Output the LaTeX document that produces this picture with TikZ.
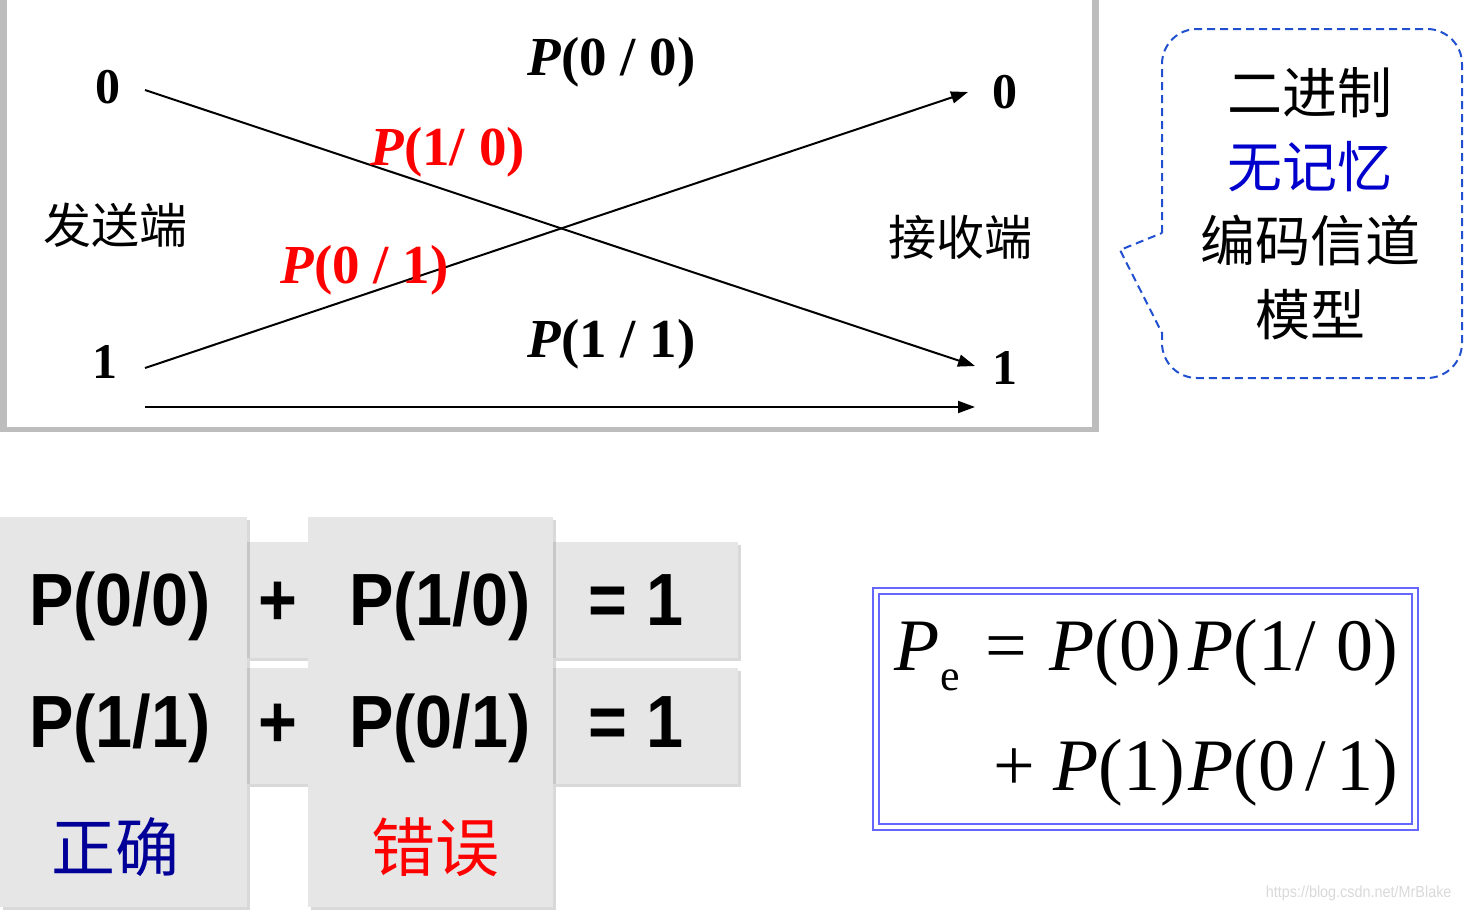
\documentclass[tikz,border=0pt]{standalone}
\usepackage{fontspec}
\setmainfont{Liberation Serif}
\newfontfamily\cjk{Noto Sans CJK SC}
\newfontfamily\arial[FakeStretch=0.9]{Liberation Sans}
\usetikzlibrary{arrows.meta, positioning, shadows}
\definecolor{cShadow}{HTML}{BDBDBD}
\definecolor{cCell}{HTML}{E6E6E6}
\definecolor{cErr}{HTML}{FF0000}
\definecolor{cMem}{HTML}{0000CC}
\definecolor{cOk}{HTML}{000099}
\definecolor{cCall}{HTML}{2050D0}
\definecolor{cBox}{HTML}{6666FF}
\newcommand{\fsz}[1]{\fontsize{#1}{#1}\selectfont}

\begin{document}
\begin{tikzpicture}[x=1pt, y=-1pt,
    digit/.style={font=\fsz{50}\bfseries, inner sep=0pt},
    prob/.style={font=\fsz{55}\bfseries, inner sep=0pt, anchor=base west},
    wrong/.style={prob, text=cErr},
    side/.style={font=\cjk\fsz{48}, inner sep=0pt},
    link/.style={line width=2pt, -{Triangle[length=17pt, width=12pt]}},
    callout/.style={draw=cCall, line width=2pt, dash pattern=on 8pt off 5pt},
    cell/.style={fill=cCell, inner sep=0pt, anchor=north west,
        drop shadow={shadow xshift=3pt, shadow yshift=-3pt, opacity=0.3}},
    big/.style={font=\arial\bfseries\fsz{74}, inner sep=0pt, anchor=base},
    word/.style={font=\cjk\fsz{64}, inner sep=0pt},
    eq/.style={font=\fsz{74}, inner sep=0pt, anchor=base east},
    boxline/.style={draw=cBox, line width=2.5pt},
]
\useasboundingbox (0,0) rectangle (1464,910);

% Top panel with shadow
\fill[cShadow] (0,-5) rectangle (1099,432);
\fill[white] (7,-5) rectangle (1092,427);

% Sender / receiver symbols
\node[digit] (s0) at (108,87) {0};
\node[digit] (s1) at (105,362) {1};
\node[digit] (r0) at (1005,92) {0};
\node[digit] (r1) at (1005,368) {1};
\node[side] (send) at (115,225) {发送端};
\node[side] (recv) at (960,237) {接收端};

\coordinate (tx0) at (145,90);
\coordinate (tx1) at (145,368);
\coordinate (txb) at (145,407);
\coordinate (rx0) at (968,92);
\coordinate (rx1) at (975,366);
\coordinate (rxb) at (975,407);

% Channel transitions
\draw[link] (tx0) -- (rx1);
\draw[link] (tx1) -- (rx0);
\draw[link] (txb) -- (rxb);

\node[prob]  (p00) at (527,75)  {\textit{P}(0 / 0)};
\node[wrong] (p10) at (370,165) {\textit{P}(1/ 0)};
\node[wrong] (p01) at (280,283) {\textit{P}(0 / 1)};
\node[prob]  (p11) at (527,357) {\textit{P}(1 / 1)};

% Callout
\draw[callout] (1162,233) [rounded corners=35pt] -- (1162,29) -- (1462,29)
    -- (1462,378) -- (1162,378) [sharp corners] -- (1162,333) -- (1120,250) -- cycle;
\node[font=\cjk\fontsize{55}{74}\selectfont, align=center, inner sep=0pt] (model)
    at (1310,204) {二进制\\{\color{cMem}无记忆}\\编码信道\\模型};

% Sum table
\node[cell, minimum width=62pt, minimum height=116pt]  (plus1) at (247,542) {};
\node[cell, minimum width=185pt, minimum height=116pt] (one1)  at (553,542) {};
\node[cell, minimum width=62pt, minimum height=116pt]  (plus2) at (247,668) {};
\node[cell, minimum width=185pt, minimum height=116pt] (one2)  at (553,668) {};
\node[cell, minimum width=247pt, minimum height=390pt] (right) at (0,517) {};
\node[cell, minimum width=245pt, minimum height=390pt] (wrongcol) at (308,517) {};

\node[big] (a00) at (120,625) {P(0/0)};
\node[big] (a10) at (440,625) {P(1/0)};
\node[big] (a11) at (120,747) {P(1/1)};
\node[big] (a01) at (440,747) {P(0/1)};
\node[big] at (plus1.center |- a00.base) {+};
\node[big] at (plus2.center |- a11.base) {+};
\node[big] (e1) at (636,625) {= 1};
\node[big] (e2) at (636,747) {= 1};
\node[word, text=cOk] (ok)  at (115,847) {正确};
\node[word, text=cErr] (err) at (435,847) {错误};

% Error probability
\draw[boxline] (873,588) rectangle (1418,830);
\draw[boxline] (879,594) rectangle (1412,824);
\node[eq] (pe1) at (1398,670)
    {\textit{P}\raisebox{-20pt}{\fsz{44}e}\hspace{26pt}=\hspace{22pt}\textit{P}(0)\hspace{8pt}\textit{P}(1/\hspace{20pt}0)};
\node[eq] (pe2) at (1398,790)
    {+\hspace{18pt}\textit{P}(1)\hspace{4pt}\textit{P}(0\hspace{10pt}/\hspace{10pt}1)};

\node[font=\arial\fsz{16}, text=gray!30, anchor=base east] (mark) at (1455,897)
    {https://blog.csdn.net/MrBlake};
\end{tikzpicture}
\end{document}
